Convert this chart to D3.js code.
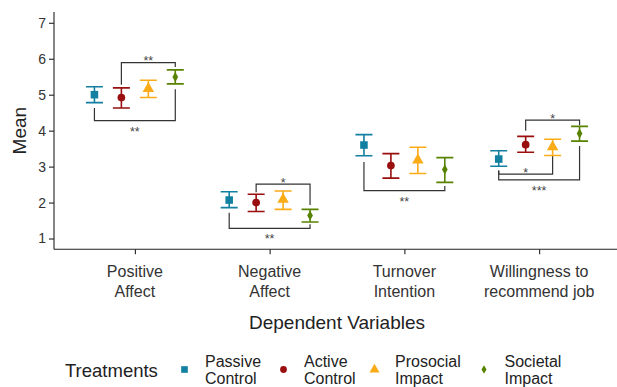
<!DOCTYPE html>
<html>
<head>
<meta charset="utf-8">
<script src="https://cdnjs.cloudflare.com/ajax/libs/d3/7.8.5/d3.min.js"></script>
<style>
  html, body { margin: 0; padding: 0; background: #fff; }
  svg { display: block; font-family: "Liberation Sans", Arial, Helvetica, sans-serif; }
</style>
</head>
<body>
<svg id="chart" width="617" height="387"></svg>
<script>
// Dependent variables (x categories), each label split over two lines
var categories = ["Positive Affect", "Negative Affect", "Turnover Intention", "Willingness to recommend job"];
var categoryLines = [["Positive", "Affect"], ["Negative", "Affect"], ["Turnover", "Intention"], ["Willingness to", "recommend job"]];

var treatments = ["Passive Control", "Active Control", "Prosocial Impact", "Societal Impact"];
var treatmentLines = [["Passive", "Control"], ["Active", "Control"], ["Prosocial", "Impact"], ["Societal", "Impact"]];

// means and 95% CI per treatment, in category order
var passiveMean   = [5.00, 2.07, 3.60, 3.21];
var passiveLow    = [4.78, 1.86, 3.30, 3.01];
var passiveHigh   = [5.22, 2.30, 3.89, 3.44];
var activeMean    = [4.92, 2.00, 3.03, 3.61];
var activeLow     = [4.63, 1.75, 2.68, 3.40];
var activeHigh    = [5.19, 2.23, 3.36, 3.84];
var prosocialMean = [5.17, 2.09, 3.18, 3.55];
var prosocialLow  = [4.92, 1.81, 2.81, 3.31];
var prosocialHigh = [5.40, 2.32, 3.54, 3.76];
var societalMean  = [5.49, 1.64, 2.92, 3.92];
var societalLow   = [5.30, 1.46, 2.56, 3.71];
var societalHigh  = [5.69, 1.81, 3.25, 4.12];

var yTicks = [1, 2, 3, 4, 5, 6, 7];

// significance brackets: category, from/to treatment, bar level, leg ends, label
var bracketCat   = [0, 0, 1, 1, 2, 3, 3, 3];
var bracketFrom  = [1, 0, 1, 0, 0, 1, 0, 0];
var bracketTo    = [3, 3, 3, 3, 3, 3, 2, 3];
var bracketLevel = [5.89, 4.28, 2.51, 1.28, 2.33, 4.29, 2.79, 2.63];
var bracketLeftEnd  = [5.28, 4.63, 2.29, 1.72, 3.13, 4.00, 2.88, 2.90];
var bracketRightEnd = [5.77, 5.15, 1.93, 1.40, 2.46, 4.15, 3.32, 3.57];
var bracketLabel = ["**", "**", "*", "**", "**", "*", "*", "***"];
var bracketLabelAbove = [true, false, true, false, false, true, true, false];

var colors = ["#1380A1", "#990F0F", "#FAAB18", "#588300"];
var symbols = [d3.symbolSquare, d3.symbolCircle, d3.symbolTriangle, d3.symbolDiamond];
var symbolSize = [44, 36, 44, 22];

var series = [
  { mean: passiveMean, low: passiveLow, high: passiveHigh },
  { mean: activeMean, low: activeLow, high: activeHigh },
  { mean: prosocialMean, low: prosocialLow, high: prosocialHigh },
  { mean: societalMean, low: societalLow, high: societalHigh }
];

var panel = { left: 54, right: 620, top: 12, bottom: 249.3 };
var svg = d3.select('#chart');

var x = d3.scalePoint().domain(categories).range([panel.left, panel.right]).padding(0.6);
var dodge = d3.scaleBand().domain(d3.range(treatments.length))
  .range([-x.step() * 0.4, x.step() * 0.4]);
function xPos(ci, ti) { return x(categories[ci]) + dodge(ti) + dodge.bandwidth() / 2; }

var y = d3.scaleLinear().domain([0.7, 7.3]).range([panel.bottom, panel.top]);

// y axis
var yAxis = svg.append('g').attr('transform', 'translate(' + panel.left + ',0)')
  .call(d3.axisLeft(y).tickValues(yTicks).tickSize(5).tickPadding(3).tickFormat(d3.format('d')));
yAxis.select('.domain').attr('d', 'M0,' + panel.top + 'V' + panel.bottom).attr('stroke', '#222').attr('stroke-width', 1.1);
yAxis.selectAll('.tick line').attr('stroke', '#222').attr('stroke-width', 1.1);
yAxis.selectAll('.tick text').attr('fill', '#333').style('font-size', '14px');

// x axis
var xAxis = svg.append('g').attr('transform', 'translate(0,' + panel.bottom + ')')
  .call(d3.axisBottom(x).tickSize(5).tickFormat(''));
xAxis.select('.domain').attr('d', 'M' + panel.left + ',0H617').attr('stroke', '#222').attr('stroke-width', 1.1);
xAxis.selectAll('.tick line').attr('stroke', '#222').attr('stroke-width', 1.1);
categories.forEach(function(c, i) {
  var t = svg.append('text').attr('text-anchor', 'middle').attr('fill', '#333')
    .style('font-size', '16px');
  categoryLines[i].forEach(function(line, k) {
    t.append('tspan').attr('x', x(c)).attr('y', 277 + k * 20).text(line);
  });
});

// axis titles
svg.append('text').attr('x', (panel.left + panel.right) / 2).attr('y', 329)
  .attr('text-anchor', 'middle').attr('fill', '#222').style('font-size', '19px')
  .text('Dependent Variables');
svg.append('text').attr('transform', 'translate(26,' + ((panel.top + panel.bottom) / 2) + ') rotate(-90)')
  .attr('text-anchor', 'middle').attr('fill', '#222').style('font-size', '19px')
  .text('Mean');

// brackets
var bg = svg.append('g');
bracketCat.forEach(function(c, i) {
  var x1 = xPos(c, bracketFrom[i]), x2 = xPos(c, bracketTo[i]);
  var yl = y(bracketLevel[i]);
  bg.append('path')
    .attr('d', 'M' + x1 + ',' + y(bracketLeftEnd[i]) + 'V' + yl + 'H' + x2 + 'V' + y(bracketRightEnd[i]))
    .attr('fill', 'none').attr('stroke', '#333').attr('stroke-width', 1.2);
  bg.append('text').attr('x', (x1 + x2) / 2)
    .attr('y', bracketLabelAbove[i] ? yl + 2.5 : yl + 15)
    .attr('text-anchor', 'middle').attr('fill', '#444').style('font-size', '12.5px')
    .text(bracketLabel[i]);
});

// error bars and points
var capHalf = 8.5;
series.forEach(function(s, ti) {
  var g = svg.append('g');
  categories.forEach(function(c, ci) {
    var cx = xPos(ci, ti);
    g.append('path')
      .attr('d', 'M' + (cx - capHalf) + ',' + y(s.high[ci]) + 'H' + (cx + capHalf) +
                 'M' + cx + ',' + y(s.high[ci]) + 'V' + y(s.low[ci]) +
                 'M' + (cx - capHalf) + ',' + y(s.low[ci]) + 'H' + (cx + capHalf))
      .attr('fill', 'none').attr('stroke', colors[ti]).attr('stroke-width', 1.6);
    g.append('path')
      .attr('transform', 'translate(' + cx + ',' + y(s.mean[ci]) + ')')
      .attr('d', d3.symbol().type(symbols[ti]).size(symbolSize[ti] * 1.3)())
      .attr('fill', colors[ti]);
  });
});

// legend
var legend = svg.append('g');
legend.append('text').attr('x', 65).attr('y', 376.5).attr('fill', '#222')
  .style('font-size', '18.5px').text('Treatments');
var keyX = [184.5, 283.5, 374.5, 484];
treatments.forEach(function(t, i) {
  legend.append('path')
    .attr('transform', 'translate(' + keyX[i] + ',369.5)')
    .attr('d', d3.symbol().type(symbols[i]).size(symbolSize[i])())
    .attr('fill', colors[i]);
  var txt = legend.append('text').attr('fill', '#222').style('font-size', '16px');
  treatmentLines[i].forEach(function(line, k) {
    txt.append('tspan').attr('x', keyX[i] + 20.5).attr('y', 366.5 + k * 17.6).text(line);
  });
});
</script>
</body>
</html>
